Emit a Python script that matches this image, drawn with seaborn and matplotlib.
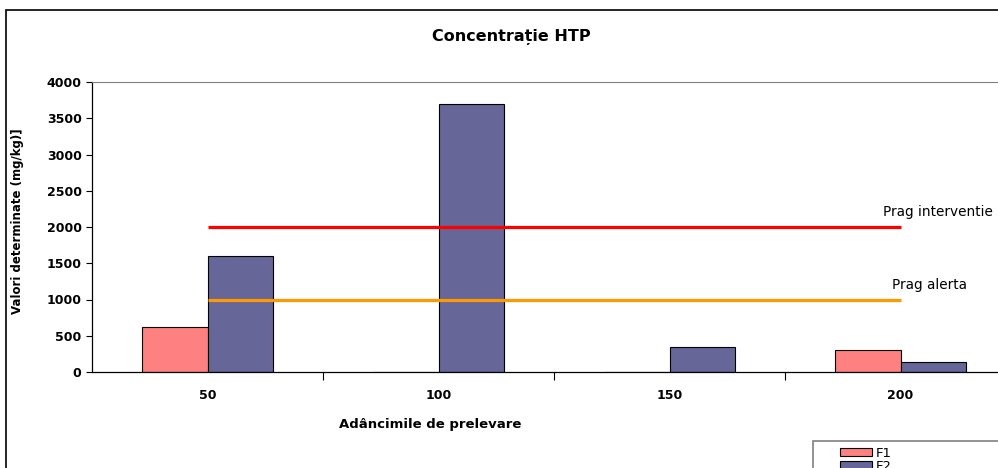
import matplotlib
matplotlib.use('Agg')
import matplotlib.pyplot as plt
from matplotlib.patches import Rectangle
import pandas as pd
import seaborn as sns

# data
adancimi = ['50', '100', '150', '200']
f1 = [620, 0, 0, 300]
f2 = [1600, 3700, 340, 140]
prag_interventie = [2000, 2000, 2000, 2000]
prag_alerta = [1000, 1000, 1000, 1000]

df = pd.DataFrame({
    'Adancime': adancimi * 2,
    'Valoare': f1 + f2,
    'Serie': ['F1'] * len(adancimi) + ['F2'] * len(adancimi),
})

sns.set_style('ticks')
plt.rcParams['font.family'] = ['DejaVu Sans']
plt.rcParams.update({'text.color': 'black', 'axes.labelcolor': 'black',
                     'xtick.color': 'black', 'ytick.color': 'black'})

W, H = 998, 468
fig = plt.figure(figsize=(W / 100, H / 100), dpi=100)
ax = fig.add_axes([92 / W, 1 - 372 / H, 924 / W, 290 / H])

sns.barplot(data=df, x='Adancime', y='Valoare', hue='Serie', order=adancimi,
            palette=['#FF8080', '#666699'], width=0.57, edgecolor='black',
            linewidth=0.8, saturation=1, ax=ax)

handles, labels = ax.get_legend_handles_labels()
if ax.get_legend() is not None:
    ax.get_legend().remove()

xs = list(range(len(adancimi)))
ax.plot(xs, prag_interventie, color='#FF0000', lw=2.3, solid_capstyle='butt', zorder=5)
ax.plot(xs, prag_alerta, color='#FF9900', lw=2.3, solid_capstyle='butt', zorder=5)
ax.text(3.4, 2200, 'Prag interventie', ha='right', va='center', fontsize=9.8)
ax.text(3.29, 1200, 'Prag alerta', ha='right', va='center', fontsize=9.8)

ax.set_xlim(-0.5, 3.5)
ax.set_ylim(0, 4000)
ax.set_yticks(range(0, 4001, 500))
ax.tick_params(axis='y', direction='out', length=4.5, width=0.8, labelsize=9, pad=3)
for t in ax.get_yticklabels():
    t.set_fontweight('bold')
ax.set_xticks(xs)
ax.set_xticklabels(adancimi, fontsize=9, fontweight='bold')
ax.tick_params(axis='x', which='major', length=0, pad=12)
ax.set_xticks([0.5, 1.5, 2.5], minor=True)
ax.tick_params(axis='x', which='minor', direction='out', length=6, width=0.8)

ax.set_xlabel('Adâncimile de prelevare', fontsize=9.5, fontweight='bold')
ax.xaxis.set_label_coords((430 - 92) / 924, -0.16)
ax.set_ylabel('Valori determinate (mg/kg)]', fontsize=8.5, fontweight='bold')
ax.yaxis.set_label_coords((24 - 92) / 924, 0.52)

for s in ['left', 'bottom']:
    ax.spines[s].set_color('black')
    ax.spines[s].set_linewidth(0.9)
ax.spines['top'].set_visible(True)
ax.spines['top'].set_color('#808080')
ax.spines['right'].set_visible(False)
ax.grid(False)

fig.text(511 / W, 1 - 37 / H, 'Concentrație HTP', ha='center', va='center',
         fontsize=11.5, fontweight='bold')

# chart area border
fig.patches.append(Rectangle((6 / W, -0.1), 1.1, 1 - 10 / H + 0.1,
                             transform=fig.transFigure, fill=False,
                             edgecolor='black', linewidth=1.2))
# legend box
fig.patches.append(Rectangle((813 / W, -0.1), 0.3, 1 - 441 / H + 0.1,
                             transform=fig.transFigure, fill=False,
                             edgecolor='#808080', linewidth=1.2))
fig.legend(handles, labels, loc='upper left', bbox_to_anchor=(832 / W, 1 - 439 / H),
           frameon=False, fontsize=9.5, labelspacing=0.0, handlelength=2.4,
           handleheight=0.55, handletextpad=0.3, borderpad=0.1)

fig.savefig('out.png', dpi=100)
